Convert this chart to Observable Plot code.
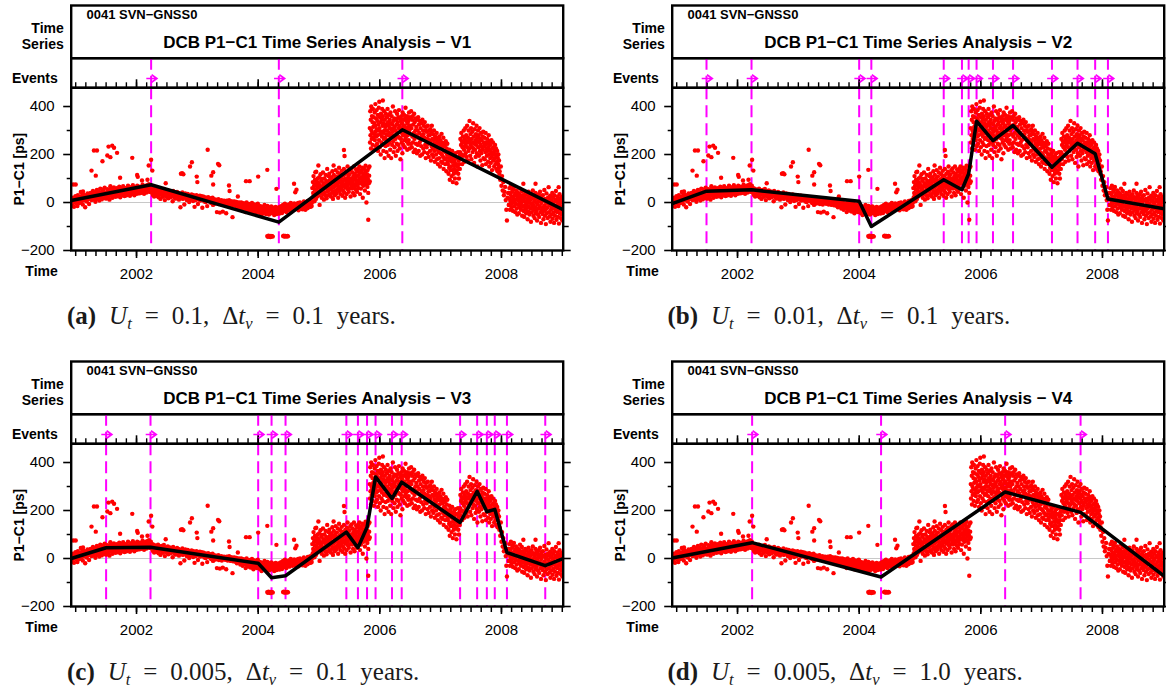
<!DOCTYPE html>
<html>
<head>
<meta charset="utf-8">
<script src="https://cdn.jsdelivr.net/npm/d3@7"></script>
<script src="https://cdn.jsdelivr.net/npm/@observablehq/plot@0.6"></script>
<style>
html,body{margin:0;padding:0;background:#fff;overflow:hidden;width:1166px;height:688px}
.panel{position:absolute;width:570px;height:350px}
.panel svg{position:absolute;left:0;overflow:visible}
.cap{position:absolute;font-family:"Liberation Serif","Times New Roman",serif;font-size:25px;color:#1a1a1a;white-space:nowrap;word-spacing:6.7px}
.cap sub{font-size:0.66em;vertical-align:-0.3em;line-height:0}
</style>
</head>
<body>
<script>
// ---------------- data ----------------
const stationLabel = "0041 SVN\u2212GNSS0";
const titles = ["DCB P1\u2212C1 Time Series Analysis \u2212 V1","DCB P1\u2212C1 Time Series Analysis \u2212 V2","DCB P1\u2212C1 Time Series Analysis \u2212 V3","DCB P1\u2212C1 Time Series Analysis \u2212 V4"];
const captionIds = ["(a)","(b)","(c)","(d)"];
const captionUt = ["0.1","0.01","0.005","0.005"];
const captionDt = ["0.1","0.1","0.1","1.0"];
const majorTicks = [2002, 2004, 2006, 2008];
const yMajor = [-200, 0, 200, 400];
const yMinor = [-100, 100, 300];
const xDomain = [2000.926, 2009.015];
const yDomain = [-200, 478];

const band2001 = [8,-12,20,3,-18,14,0,26,9,-4, 17,-15,30,6,15,-2,22,11,44,4, 27,13,-8,20,34,9,24,-20,16,29, 4,22,38,14,27,-6,31,18,40,25, 10,36,21,48,28,12,38,24,3,41, 29,52,16,36,25,44,8,33,58,22, 38,13,46,29,54,19,35,62,27,42, 16,40,30,55,21,45,33,12,49,36, 58,28,43,20,52,37,63,31,45,24, 48,35,60,26,42,54,33,66,40,22, 50,38,58,30,46,68,36,52,27,44, 60,42,30,55,48,70,38,52,45,28, 56,44,64,35,50,72,42,58,30,48, 62,46,54,36,70,50,44,60,38,66, 52,64,40,58,48,74,45,60,36,55, 68,50,58,42,72,54,62,46,76,52, 60,44,70,55];
const band2003 = [52,38,60,30,46,25,55,40,33,48, 28,50,36,58,22,44,35,47,15,40, 52,30,42,24,38,56,32,10,45,36, 26,44,33,50,18,40,30,46,22,38, 42,28,36,5,48,30,22,40,34,16, 38,26,44,20,32,40,12,35,28,-20, 36,22,30,42,15,28,34,-8,25,38, 20,32,10,28,36,18,26,2,30,22, 28,14,34,20,25,6,30,18,-18,26, 10,24,30,16,22,-6,26,12,20,28, 8,22,14,26,-22,18,10,24,4,20, 16,2,20,10,-15,14,22,6,12,18, 4,16,-2,12,8,20,-10,6,14,2, 10,-4,12,5,-40,8,0,14,-6,4, -42,6,0,10,-8,4,-38,2,8,-2, 6,-5,2,-45,8,0,-8,4,-2,10, -4,2,-10,5,-6,0,-61,3,-12,-2, 4,-8,0,-14,2,-20,-4,25,-10,0, -12,-2,-25,-6,0,-18,-8,-30,-3,-14, -22,-5,-10,-40,-15,0,-28,-8,-18,-34, -6,-25,-15,-38,-10,-20,-2,-30,-14,-45, -22,-8,-35,-18,-28,-12,-40,-25,-5,-30];
const band2004 = [-25,-12,-38,-20,-45,-15,-30,-52,-22,-36, -18,-44,-28,-10,-40,-32,-48,-24,-35,-14, -42,-26,-50,-30,-20,-46,-34,-16,-38,-28, -44,-22,-36,-52,-26,-40,-18,-32,-48,-30, -24,-42,-35,-20,-46,-28,-38,-15,-30,-44, -26,-10,-36,-22,-32,-5,-28,-18,-40,-24, -12,-30,-20,-8,-34,-16,-26,-2,-22,-14, -30,-10,-24,-18,-4,-28,-12,-20,-6,-26, -15,-22,-2,-32,-10,-18,0,-25,-8,-20, -12,-28,-5,-16,4,-22,-10,-30,-3,-18, -8,-24,6,-14,-20,-2,-12,10,-18,-6, -15,2];
const cloud2005 = [60,20,85,40,110,30,70,5,55,95, 35,75,15,128,50,88,25,65,100,42, 80,30,62,105,-10,72,48,118,38,90, 55,20,98,66,35,125,45,80,12,70, 100,40,75,28,115,58,90,18,65,140, 48,85,30,110,70,52,120,35,95,60, 78,25,105,55,88,40,130,68,15,95, 62,115,45,82,30,100,70,135,50,90, 38,108,75,55,125,20,88,66,145,48, 95,60,118,35,80,102,55,132,72,28, 88,50,112,68,140,42,96,75,20,120, 62,100,85,35,128,72,150,55,92,110, 45,118,80,98,60,135,25,90,70,142, 100,58,125,82,40,110,95,150,68,30, 120,75,98,55,138,88,110,45,130,70, 92,140,60,115,80,150,100,35,125,85, 58,132,105,78,145,95,20,120,70,110, 140,85,100,50,128,153,75,108,0,90, 118,65,135,98,40,145,80,112,150,88];
const cloud2006a = [310,250,380,280,345,225,400,300,265,360, 290,335,240,390,315,270,355,220,330,285, 375,260,320,410,295,235,350,275,385,305, 245,340,280,365,215,325,300,395,260,420, 310,230,355,285,335,200,370,295,250,345, 275,390,320,240,360,290,215,330,265,380, 300,185,345,270,315,235,370,285,325,210, 355,260,300,390,240,335,280,195,320,365, 290,250,345,310,220,375,270,330,185,305, 360,280,240,325,295,400,255,340,210,310, 275,350,230,315,380,265,300,195,345,285, 325,245,370,290,215,335,275,355,240,310, 385,270,320,225,350,295,180,340,265,305, 360,250,290,330,205,375,280,315,240,345, 295,365,260,320,230,350,285,395,270,310, 340,255,300,360,220,330,280,350,245,315];
const cloud2006b = [340,260,375,300,225,355,285,320,245,380, 310,230,345,275,360,250,325,210,290,370, 265,335,220,300,350,245,315,280,205,345, 300,240,355,270,215,325,290,250,340,195, 310,260,235,330,280,200,345,265,300,225, 285,320,210,270,335,240,300,185,315,255, 230,295,265,205,320,245,280,190,300,260, 280,215,305,250,175,290,235,320,200,265, 225,285,190,260,300,215,245,170,275,230, 265,200,240,290,180,255,220,160,270,210, 245,185,275,225,150,260,205,240,170,286, 200,250,165,230,190,270,140,215,245,180, 235,160,210,255,185,130,225,200,245,170, 160,200,120,185,145,220,95,175,135,205, 150,190,110,170,215,135,85,180,155,120, 195,140,170,100,205,155,125,185,80,160, 135,185,150,210,120,175,100,160,195,140];
const cloud2007 = [210,265,180,240,290,200,255,160,230,275, 195,250,300,220,170,265,235,310,205,245, 280,190,255,320,230,175,270,215,300,250, 225,340,260,195,285,240,310,180,265,230, 295,210,250,330,225,275,165,245,305,220, 260,190,285,240,320,205,270,150,255,300, 230,280,195,250,310,215,265,175,240,290, 205,260,230,155,275,220,295,185,250,235, 270,180,240,210,290,160,250,225,195,265, 215,245,170,230,280,200,150,255,220,185, 240,165,210,260,190,135,225,200,250,175, 205,230,150,215,185,240,160,200,225,140, 190,170,215,130,185,160,200,145,175,120];
const cloud2008 = [40,-10,60,15,-30,35,5,70,-5,25, -20,45,10,55,-35,20,0,65,-15,30, 8,-40,38,-5,50,12,-25,28,-50,18, 42,-10,22,-45,5,35,-20,58,-8,15, -30,25,-2,48,-55,10,30,-18,78,-35, 6,-60,20,-12,40,-28,2,-45,32,-5, -22,15,-70,8,-38,45,-15,25,-50,0, 30,-25,12,-80,-5,35,-40,18,-18,50, -10,-55,22,-30,5,-65,15,-20,40,-45, 0,-35,28,-75,-8,20,-50,10,-25,35, -60,5,-15,45,-40,18,-85,-2,25,-30, 12,-48,30,-20,-70,8,-35,52,-12,-55, 15,-28,-90,0,38,-45,10,-22,-65,20, -5,64,-40,18,-58,-12,28,-80,5,-30, -50,10,-20,40,-68,-8,22,-42,0,-85, 30,-25,-55,12,-35,48,-15,-72,5,-40, -10,25,-60,-28,15,-88,-5,35,-45,-18, 8,-65,-30,20,-50,0,-75,25,-35,-12];
const segStart = [2000.94, 2002.25, 2004.00, 2004.89, 2005.835, 2006.47, 2007.32, 2008.12];
const segStep  = [0.008, 0.008, 0.008, 0.005, 0.004, 0.005, 0.005, 0.005];
const dropPts = [[2007.97,130],[2007.98,95],[2007.99,150],[2008.00,70],[2008.01,110],[2008.02,50],[2008.03,85],[2008.04,30],[2008.05,45],[2008.06,65],[2008.07,10],[2008.08,-30],[2008.09,-75],[2008.10,20],[2008.11,40],[2008.12,-10]];
const outliers = [[2001.30,217],[2001.35,217],[2001.44,172],[2001.52,196],[2001.54,233],[2001.60,237],[2001.63,228],[2001.68,207],[2001.57,189],[2001.26,133],[2001.33,112],[2001.73,103],[2001.93,186],[2002.01,115],[2002.02,107],[2002.20,154],[2002.24,178],[2002.26,133],[2002.18,95],[2002.09,92],[2000.96,75],[2001.00,75],[2001.12,46],[2001.57,68],[2002.48,80],[2002.73,120],[2002.75,122],[2002.77,118],[2002.88,150],[2002.91,168],[2002.99,108],[2003.00,85],[2003.17,220],[2003.23,112],[2003.26,126],[2003.26,75],[2003.34,161],[2003.36,155],[2003.52,71],[2003.53,48],[2003.80,89],[2003.86,89],[2004.00,108],[2004.15,136],[2004.30,57],[2004.59,78],[2004.61,43],[2004.63,53],[2005.41,219],[2005.42,194],[2005.24,154],[2004.94,126],[2004.99,154],[2005.81,-72],[2006.05,425],[2005.87,390],[2008.56,78],[2008.94,64],
[2004.15,-140],[2004.16,-143],[2004.17,-138],[2004.18,-141],[2004.19,-140],[2004.20,-144],[2004.21,-139],[2004.22,-141],[2004.23,-140],[2004.24,-142],[2004.41,-140],[2004.42,-138],[2004.43,-142],[2004.44,-141],[2004.45,-139],[2004.46,-140],[2004.47,-142],[2004.48,-139],[2004.49,-141]];

// detected events (decimal years) and fitted piecewise-linear models
const eventsV1 = [2002.24, 2004.34, 2006.37];
const eventsV2 = [2001.49, 2002.23, 2004.00, 2004.20, 2005.39, 2005.69, 2005.80, 2005.93, 2006.20, 2006.53, 2007.17, 2007.59, 2007.88, 2008.09];
const eventsV3 = [2001.50, 2002.23, 2004.00, 2004.22, 2004.45, 2005.45, 2005.64, 2005.79, 2005.93, 2006.20, 2006.36, 2007.32, 2007.60, 2007.76, 2007.89, 2008.09, 2008.72];
const eventsV4 = [2002.24, 2004.36, 2006.40, 2007.64];
const fitV1 = [[2000.926,8],[2002.24,74],[2004.34,-82],[2006.37,303],[2009.015,-30]];
const fitV2 = [[2000.926,-5],[2001.49,47],[2002.23,53],[2004.00,5],[2004.20,-100],[2005.39,95],[2005.69,53],[2005.80,120],[2005.93,339],[2006.20,258],[2006.53,321],[2007.17,147],[2007.59,247],[2007.88,203],[2008.09,15],[2009.015,-26]];
const fitV3 = [[2000.926,0],[2001.50,45],[2002.23,47],[2004.00,-20],[2004.22,-80],[2004.45,-72],[2005.45,110],[2005.64,45],[2005.79,130],[2005.93,340],[2006.20,250],[2006.36,318],[2007.32,150],[2007.60,280],[2007.76,195],[2007.89,205],[2008.09,25],[2008.72,-30],[2009.015,0]];
const fitV4 = [[2000.926,2],[2002.24,66],[2004.36,-77],[2006.40,277],[2007.64,192],[2009.015,-73]];

// ---------------- build ----------------
const segs = [band2001, band2003, band2004, cloud2005, cloud2006a, cloud2006b, cloud2007, cloud2008];
const obs = [];
segs.forEach((vals, k) => vals.forEach((v, i) => obs.push([segStart[k] + i * segStep[k], v])));
dropPts.forEach(p => obs.push(p));
outliers.forEach(p => obs.push(p));

const minorTicks = d3.range(0, 49).map(i => 2001 + i / 6);
const MAG = "#ff00ff";
const FONT = "'Liberation Sans', Arial, Helvetica, sans-serif";
const W = 570, ML = 70.7, MR = W - 562.7;
const FW = 2.4;
const fmtY = d => d < 0 ? "\u2212" + (-d) : String(d);
const style = {background: "transparent", overflow: "visible", fontFamily: FONT, color: "#000"};
const dash = {stroke: MAG, strokeWidth: 2, strokeDasharray: "12,6"};
const lbl = {fontFamily: FONT, fontWeight: "bold", fontSize: 14, fill: "#000"};
// event marker: a short shaft with an open arrow head, drawn as a custom dot symbol
const eventArrow = {
  draw(ctx, size) {
    const s = Math.sqrt(size) / 2;
    ctx.moveTo(-s, 0); ctx.lineTo(s, 0);
    ctx.moveTo(0, -s * 0.7); ctx.lineTo(s, 0); ctx.lineTo(0, s * 0.7);
  }
};

const panels = [
  {left: 0, top: 0, title: titles[0], events: eventsV1, fit: fitV1, i: 0},
  {left: 600.5, top: 0, title: titles[1], events: eventsV2, fit: fitV2, i: 1},
  {left: 0, top: 355.5, title: titles[2], events: eventsV3, fit: fitV3, i: 2},
  {left: 600.5, top: 355.5, title: titles[3], events: eventsV4, fit: fitV4, i: 3}
];

for (const p of panels) {
  const div = document.createElement("div");
  div.className = "panel";
  div.style.left = p.left + "px";
  div.style.top = p.top + "px";
  document.body.appendChild(div);

  const header = Plot.plot({
    width: W, height: 60, marginTop: 5, marginBottom: 2.3, marginLeft: ML, marginRight: MR,
    style,
    marks: [
      Plot.frame({stroke: "#000", strokeWidth: FW}),
      Plot.text([stationLabel], {text: d => d, frameAnchor: "top-left", dx: 15.3, dy: 4.7, lineAnchor: "top", textAnchor: "start", fontFamily: FONT, fontWeight: "bold", fontSize: 13, fill: "#000"}),
      Plot.text([p.title], {text: d => d, frameAnchor: "top", dy: 30.8, lineAnchor: "top", fontFamily: FONT, fontWeight: "bold", fontSize: 17, fill: "#000"}),
      Plot.text(["Time\nSeries"], {text: d => d, frameAnchor: "top-left", dx: -7.4, dy: 16.7, lineAnchor: "top", textAnchor: "end", lineHeight: 1.114, ...lbl})
    ]
  });
  header.style.top = "0px";
  div.appendChild(header);

  const ev = Plot.plot({
    width: W, height: 40, marginTop: 7.7, marginBottom: 2.7, marginLeft: ML, marginRight: MR,
    x: {domain: xDomain, axis: null},
    style,
    marks: [
      Plot.ruleX(p.events, {x: d => d, ...dash}),
      Plot.tickX(minorTicks, {x: d => d, insetTop: 24.6, stroke: "#000", strokeWidth: 1.4}),
      Plot.tickX(majorTicks, {x: d => d, insetTop: 21.6, stroke: "#000", strokeWidth: 1.6}),
      Plot.dot(p.events, {x: d => d, frameAnchor: "bottom", dy: -9.3, dx: 0.5, symbol: eventArrow, r: 6, fill: "none", stroke: MAG, strokeWidth: 1.6}),
      Plot.frame({stroke: "#000", strokeWidth: FW}),
      Plot.text(["Events"], {text: d => d, frameAnchor: "top-left", dx: -13.4, dy: 15, lineAnchor: "top", textAnchor: "end", ...lbl})
    ]
  });
  ev.style.top = "50px";
  div.appendChild(ev);

  const main = Plot.plot({
    width: W, height: 210, marginTop: 7.3, marginBottom: 40, marginLeft: ML, marginRight: MR,
    x: {domain: xDomain}, y: {domain: yDomain},
    style: {...style, fontSize: "15px"},
    marks: [
      Plot.ruleY([0], {stroke: "#c8c8c8", strokeWidth: 1}),
      Plot.ruleX(p.events, {x: d => d, ...dash}),
      Plot.dot(obs, {x: d => d[0], y: d => d[1], r: 2.2, fill: "#ff0000", clip: true}),
      Plot.line(p.fit, {x: d => d[0], y: d => d[1], stroke: "#000", strokeWidth: 3.5, clip: true}),
      Plot.axisX({ticks: minorTicks, tickSize: 6, tickFormat: () => "", strokeWidth: 1.5, label: null}),
      Plot.axisX({ticks: majorTicks, tickSize: 8, tickPadding: 10.3, tickFormat: d => String(d), strokeWidth: 1.6, label: null, fontSize: 15}),
      Plot.axisY({ticks: yMajor, tickSize: 7.5, tickPadding: 9, tickFormat: fmtY, strokeWidth: 1.6, label: null, fontSize: 15}),
      Plot.axisY({ticks: yMinor, tickSize: 4, tickFormat: () => "", strokeWidth: 1.5, label: null}),
      Plot.axisY({anchor: "right", ticks: yMajor, tickSize: 7, tickFormat: () => "", strokeWidth: 1.6, label: null}),
      Plot.axisY({anchor: "right", ticks: yMinor, tickSize: 5, tickFormat: () => "", strokeWidth: 1.5, label: null}),
      Plot.frame({stroke: "#000", strokeWidth: FW}),
      Plot.text(["Time"], {text: d => d, frameAnchor: "bottom-left", dx: -13.4, dy: 16, lineAnchor: "top", textAnchor: "end", ...lbl}),
      Plot.text(["P1\u2212C1 [ps]"], {text: d => d, frameAnchor: "left", dx: -57.4, rotate: -90, lineAnchor: "top", textAnchor: "middle", ...lbl})
    ]
  });
  main.style.top = "80px";
  div.appendChild(main);

  const cap = document.createElement("div");
  cap.className = "cap";
  cap.style.left = (p.left + 67) + "px";
  cap.style.top = (p.top + 302) + "px";
  cap.innerHTML = `<b>${captionIds[p.i]}</b> <i>U<sub>t</sub></i> = ${captionUt[p.i]}, \u0394<i>t<sub>v</sub></i> = ${captionDt[p.i]} years.`;
  document.body.appendChild(cap);
}
</script>
</body>
</html>
